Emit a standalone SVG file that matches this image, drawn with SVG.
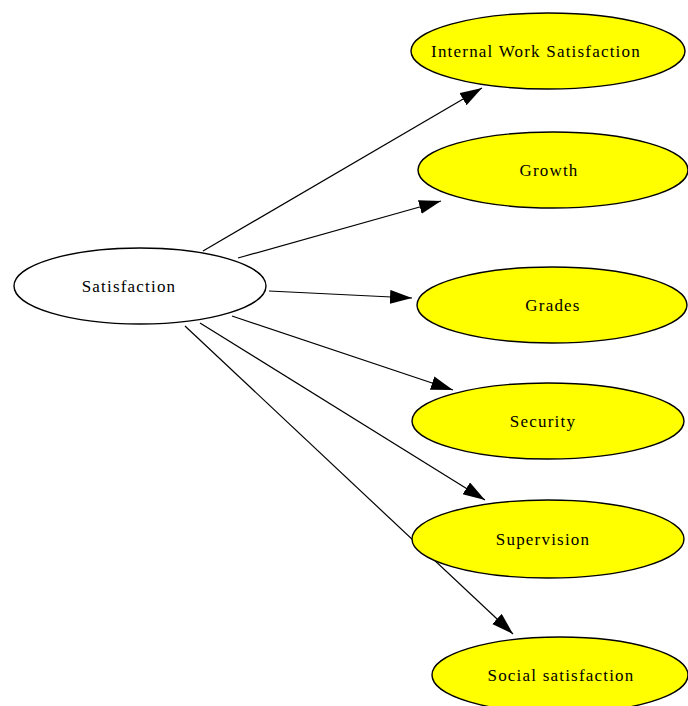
<svg xmlns="http://www.w3.org/2000/svg" width="688" height="706" viewBox="0 0 688 706">
<style>
.n ellipse{stroke:#000;stroke-width:1.4}
.y ellipse{fill:#ffff00}
.w ellipse{fill:#fff}
text{font-family:"Liberation Serif","Times New Roman",serif;font-size:17px;letter-spacing:1.2px;fill:#000;text-anchor:middle;dominant-baseline:central}
#edges line{stroke:#000;stroke-width:1.2;marker-end:url(#ah)}
</style>
<defs>
<marker id="ah" markerUnits="userSpaceOnUse" markerWidth="24" markerHeight="16" refX="22" refY="7" orient="auto">
<path d="M0,0 L22,7 L0,14 Z" fill="#000"/>
</marker>
</defs>
<rect width="688" height="706" fill="#fff"/>
<g id="edges">
<line x1="203" y1="251" x2="482" y2="88"/>
<line x1="238" y1="258" x2="441" y2="201"/>
<line x1="269" y1="291" x2="412" y2="298"/>
<line x1="232" y1="316" x2="453" y2="390"/>
<line x1="200" y1="323" x2="485" y2="500"/>
<line x1="185" y1="326" x2="513" y2="634"/>
</g>
<g id="satisfaction" class="n w"><ellipse cx="140" cy="286" rx="126" ry="38"/><text x="129" y="286">Satisfaction</text></g>
<g id="internal" class="n y"><ellipse cx="548" cy="51" rx="137" ry="38"/><text x="536" y="51">Internal Work Satisfaction</text></g>
<g id="growth" class="n y"><ellipse cx="553" cy="170" rx="135" ry="38"/><text x="549" y="170">Growth</text></g>
<g id="grades" class="n y"><ellipse cx="552" cy="305" rx="135" ry="38"/><text x="553" y="305">Grades</text></g>
<g id="security" class="n y"><ellipse cx="548" cy="421" rx="136" ry="38"/><text x="543" y="421">Security</text></g>
<g id="supervision" class="n y"><ellipse cx="548" cy="539" rx="136" ry="39"/><text x="543" y="539">Supervision</text></g>
<g id="social" class="n y"><ellipse cx="560" cy="675" rx="128" ry="38"/><text x="561" y="675">Social satisfaction</text></g>
</svg>
